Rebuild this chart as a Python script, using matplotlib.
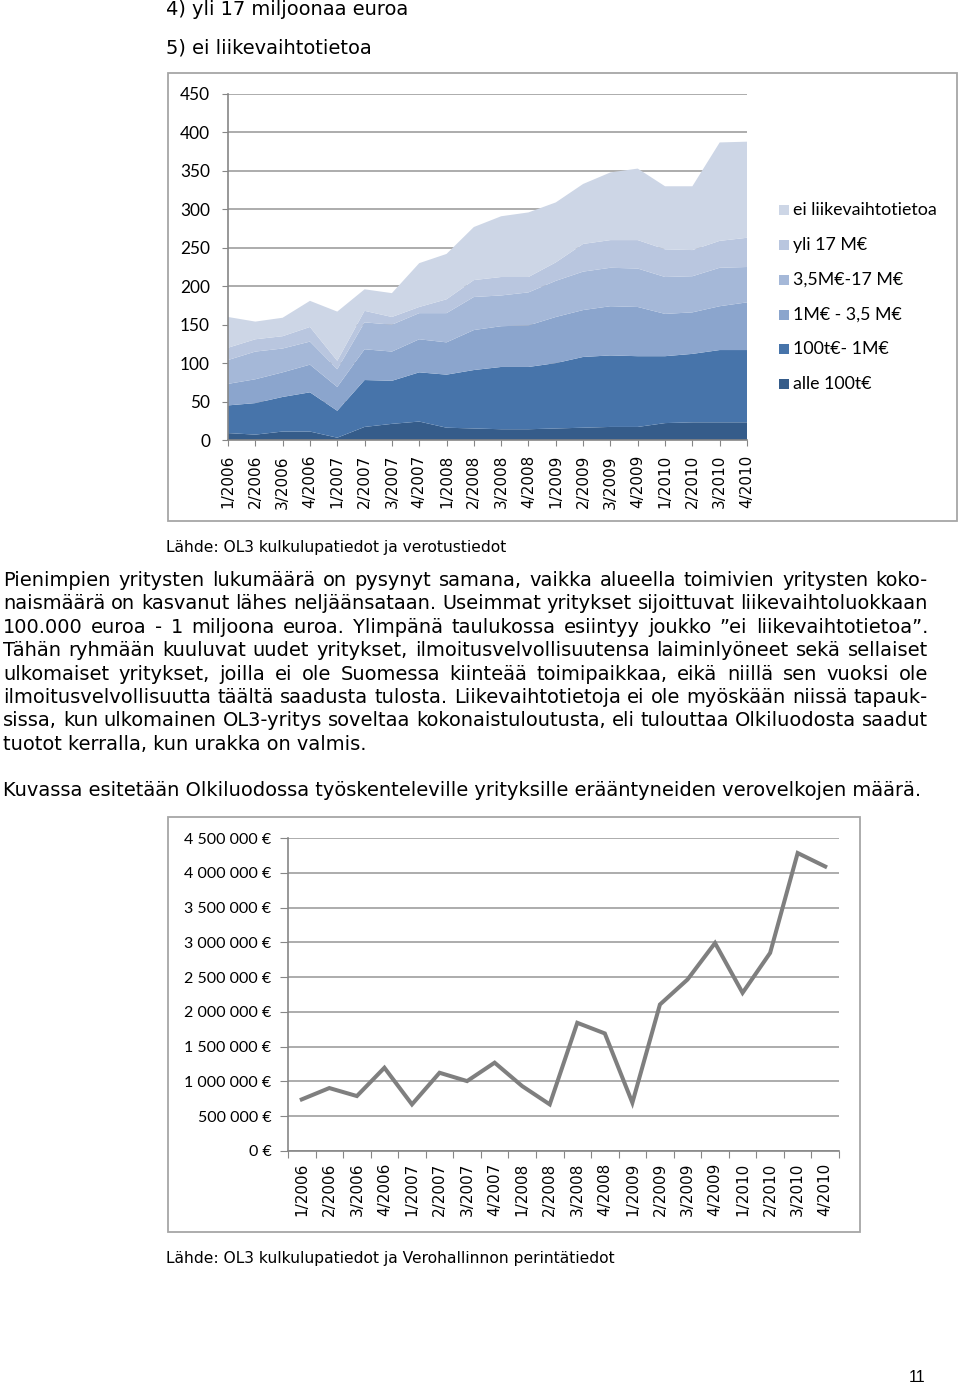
import matplotlib
matplotlib.use("Agg")
import matplotlib.pyplot as plt
from matplotlib.patches import Rectangle
from matplotlib.ticker import FuncFormatter
import numpy as np

W, H, DPI = 960, 1385, 100

quarters = ["1/2006", "2/2006", "3/2006", "4/2006",
            "1/2007", "2/2007", "3/2007", "4/2007",
            "1/2008", "2/2008", "3/2008", "4/2008",
            "1/2009", "2/2009", "3/2009", "4/2009",
            "1/2010", "2/2010", "3/2010", "4/2010"]

# yritysten lukumäärä liikevaihtoluokittain
alle_100t = [9, 7, 11, 11, 3, 17, 21, 24, 16, 15, 14, 14, 15, 16, 17, 17, 22, 23, 23, 23]
t100_1m = [36, 41, 45, 51, 35, 61, 56, 64, 69, 76, 81, 81, 85, 92, 93, 92, 87, 89, 94, 94]
m1_35 = [28, 31, 32, 36, 31, 40, 38, 43, 42, 52, 53, 54, 60, 61, 64, 64, 55, 54, 57, 62]
m35_17 = [31, 36, 31, 30, 23, 35, 35, 34, 38, 43, 40, 43, 47, 50, 50, 50, 48, 47, 50, 46]
yli_17 = [16, 16, 16, 19, 11, 15, 10, 8, 18, 22, 24, 20, 24, 36, 36, 37, 36, 34, 35, 38]
ei_tietoa = [40, 23, 24, 34, 64, 28, 31, 57, 59, 69, 79, 84, 78, 78, 88, 93, 82, 83, 128, 125]
series_names = ["alle 100t€", "100t€- 1M€", "1M€ - 3,5 M€", "3,5M€-17 M€",
                "yli 17 M€", "ei liikevaihtotietoa"]

# erääntyneet verovelat (euroa)
verovelat = [742000, 905000, 790000, 1197000, 670000, 1125000, 1005000, 1270000,
             933000, 670000, 1843000, 1690000, 694000, 2106000, 2465000, 2990000,
             2274000, 2848000, 4284000, 4090000]

paragraph = [
    "Pienimpien yritysten lukumäärä on pysynyt samana, vaikka alueella toimivien yritysten koko-",
    "naismäärä on kasvanut lähes neljäänsataan. Useimmat yritykset sijoittuvat liikevaihtoluokkaan",
    "100.000 euroa - 1 miljoona euroa. Ylimpänä taulukossa esiintyy joukko ”ei liikevaihtotietoa”.",
    "Tähän ryhmään kuuluvat uudet yritykset, ilmoitusvelvollisuutensa laiminlyöneet sekä sellaiset",
    "ulkomaiset yritykset, joilla ei ole Suomessa kiinteää toimipaikkaa, eikä niillä sen vuoksi ole",
    "ilmoitusvelvollisuutta täältä saadusta tulosta. Liikevaihtotietoja ei ole myöskään niissä tapauk-",
    "sissa, kun ulkomainen OL3-yritys soveltaa kokonaistuloutusta, eli tulouttaa Olkiluodosta saadut",
    "tuotot kerralla, kun urakka on valmis.",
]

colors = ["#355C8A", "#4774AA", "#8BA5CD", "#A5B8D8", "#B9C6DF", "#CDD6E6"]
GRID = "#A6A6A6"
AXC = "#868686"
BODY = "DejaVu Sans"
CHART = "Lato"

fig = plt.figure(figsize=(W / DPI, H / DPI), dpi=DPI)
page = fig.add_axes([0, 0, 1, 1])
page.set_xlim(0, W)
page.set_ylim(H, 0)
page.axis("off")
renderer = fig.canvas.get_renderer()


def rect(l, t, r, b):
    return [l / W, 1 - b / H, (r - l) / W, (b - t) / H]


def measure(s, size, family=BODY):
    t = page.text(0, 0, s, fontsize=size, family=family)
    w = t.get_window_extent(renderer).width
    t.remove()
    return w


def fit(s, width, family=BODY):
    return 10 * width / measure(s, 10, family)


def justify(line, x0, x1, y, size):
    words = line.split()
    widths = [measure(w, size) for w in words]
    gap = (x1 - x0 - sum(widths)) / (len(words) - 1)
    xp = x0
    for w, wd in zip(words, widths):
        page.text(xp, y, w, fontsize=size, family=BODY, va="baseline")
        xp += wd + gap


# otsikkorivit
ts = fit("4) yli 17 miljoonaa euroa", 242)
page.text(166, 15, "4) yli 17 miljoonaa euroa", fontsize=ts, family=BODY, va="baseline")
page.text(166, 54, "5) ei liikevaihtotietoa", fontsize=ts, family=BODY, va="baseline")

# kaavioiden kehykset
for l, t, r, b in [(168, 73, 957, 521), (168, 817, 860, 1232)]:
    page.add_patch(Rectangle((l, t), r - l, b - t, fill=False, ec=GRID, lw=1.3))

# --- kaavio 1: pinottu alue
x = np.arange(len(quarters))
ax1 = fig.add_axes(rect(228, 94, 747, 440))
ax1.stackplot(x, alle_100t, t100_1m, m1_35, m35_17, yli_17, ei_tietoa,
              colors=colors, lw=0)
ax1.set_xlim(0, len(quarters) - 1)
ax1.set_ylim(0, 450)
ax1.set_yticks(np.arange(0, 451, 50))
ax1.set_xticks(x, quarters, rotation=90)
ax1.set_axisbelow(True)
ax1.yaxis.grid(True, color=GRID, lw=1.3)
for s in ["top", "right"]:
    ax1.spines[s].set_visible(False)
for s in ["left", "bottom"]:
    ax1.spines[s].set_color(AXC)
    ax1.spines[s].set_linewidth(1.2)
ax1.tick_params(axis="y", length=4.3, color=AXC, pad=8.6, labelsize=12.4)
ax1.tick_params(axis="x", length=4.3, color=AXC, pad=6.5, labelsize=11)
for lab in ax1.get_yticklabels():
    lab.set_family(CHART)
for lab in ax1.get_xticklabels():
    lab.set_family(BODY)

# selite
ls = fit("ei liikevaihtotietoa", 144, CHART)
leg_y = [384, 349, 315, 280, 245, 210]
for name, c, ly in zip(series_names, colors, leg_y):
    page.add_patch(Rectangle((779, ly - 5), 10, 10, fc=c, ec="none"))
    page.text(793, ly, name, fontsize=ls, family=CHART, va="center")

page.text(166, 552, "Lähde: OL3 kulkulupatiedot ja verotustiedot",
          fontsize=fit("Lähde: OL3 kulkulupatiedot ja verotustiedot", 341),
          family=BODY, va="baseline")

# leipäteksti
bs = fit(paragraph[-1], 365)
y0 = 585.7
for i, line in enumerate(paragraph):
    yy = y0 + i * 23.45
    if i < len(paragraph) - 1:
        justify(line, 3, 928, yy, bs)
    else:
        page.text(3, yy, line, fontsize=bs, family=BODY, va="baseline")

page.text(3, 796, "Kuvassa esitetään Olkiluodossa työskenteleville yrityksille "
          "erääntyneiden verovelkojen määrä.", fontsize=bs, family=BODY, va="baseline")

# --- kaavio 2: verovelat
ax2 = fig.add_axes(rect(288, 838, 839, 1151))
ax2.plot(x, verovelat, color="#7F7F7F", lw=2.9, solid_joinstyle="miter")
ax2.set_xlim(-0.5, len(quarters) - 0.5)
ax2.set_ylim(0, 4.5e6)
ax2.set_yticks(np.arange(0, 4.5e6 + 1, 5e5))
ax2.yaxis.set_major_formatter(FuncFormatter(lambda v, p: f"{v:,.0f}".replace(",", " ") + " €"))
ax2.set_xticks(np.arange(-0.5, len(quarters), 1))
ax2.set_xticklabels([])
ax2.set_xticks(x, minor=True)
ax2.set_xticklabels(quarters, minor=True, rotation=90)
ax2.set_axisbelow(True)
ax2.yaxis.grid(True, color=GRID, lw=1.3)
for s in ["top", "right"]:
    ax2.spines[s].set_visible(False)
for s in ["left", "bottom"]:
    ax2.spines[s].set_color(AXC)
    ax2.spines[s].set_linewidth(1.2)
ax2.tick_params(axis="y", length=5.5, color=AXC, pad=6.5, labelsize=11.5)
ax2.tick_params(axis="x", which="major", length=5, color=AXC)
ax2.tick_params(axis="x", which="minor", length=0, pad=8.6, labelsize=11)
for lab in ax2.get_yticklabels():
    lab.set_family(CHART)
for lab in ax2.get_xticklabels(minor=True):
    lab.set_family(BODY)

src2 = "Lähde: OL3 kulkulupatiedot ja Verohallinnon perintätiedot"
page.text(166, 1263, src2, fontsize=fit(src2, 449), family=BODY, va="baseline")

page.text(917, 1378, "11", fontsize=11.5, family="Liberation Sans", ha="center", va="center")

fig.savefig("out.png", dpi=DPI)
